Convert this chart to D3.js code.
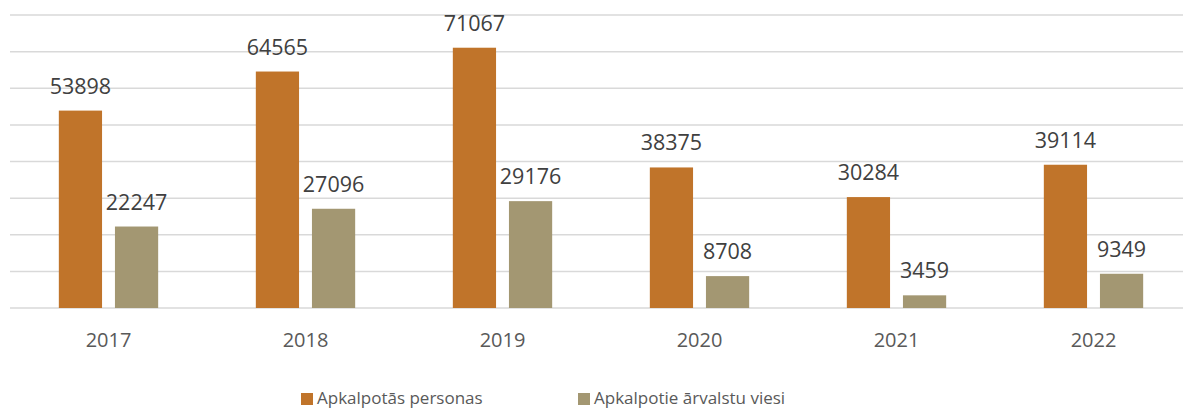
<!DOCTYPE html>
<html>
<head>
<meta charset="utf-8">
<script src="https://cdn.jsdelivr.net/npm/d3@7"></script>
<style>
  body { margin: 0; background: #fff; }
  svg { display: block; font-family: "Open Sans", sans-serif; }
</style>
</head>
<body>
<div id="chart"></div>
<script>
// data
const years = ["2017", "2018", "2019", "2020", "2021", "2022"];
const persons = [53898, 64565, 71067, 38375, 30284, 39114];
const foreigners = [22247, 27096, 29176, 8708, 3459, 9349];
const seriesNames = ["Apkalpotās personas", "Apkalpotie ārvalstu viesi"];
const colors = ["#C0742A", "#A39772"];
const yTicks = [0, 10000, 20000, 30000, 40000, 50000, 60000, 70000, 80000];

const width = 1183, height = 409;
const svg = d3.select("#chart").append("svg")
    .attr("width", width)
    .attr("height", height);

const x = d3.scaleBand().domain(years).range([10, 1192]);
const inner = d3.scaleBand().domain([0, 1]).range([0, x.bandwidth()])
    .paddingInner(0.23).paddingOuter(0.87);
const y = d3.scaleLinear().domain([0, 80000]).range([308, 15]);

// gridlines
svg.append("g")
    .selectAll("line")
    .data(yTicks)
    .join("line")
    .attr("x1", 10)
    .attr("x2", width)
    .attr("y1", d => y(d))
    .attr("y2", d => y(d))
    .attr("stroke", "#D9D9D9")
    .attr("stroke-width", 1.5);

const series = [persons, foreigners];
series.forEach((vals, si) => {
    const g = svg.append("g");
    g.selectAll("rect")
        .data(vals)
        .join("rect")
        .attr("x", (d, i) => x(years[i]) + inner(si))
        .attr("y", d => y(d))
        .attr("width", inner.bandwidth())
        .attr("height", d => y(0) - y(d))
        .attr("fill", colors[si]);
    g.selectAll("text")
        .data(vals)
        .join("text")
        .attr("x", (d, i) => x(years[i]) + inner(si) + inner.bandwidth() / 2)
        .attr("y", d => y(d) - 17)
        .attr("text-anchor", "middle")
        .attr("font-size", 21.5)
        .attr("fill", "#404040")
        .text(d => d);
});

// x axis labels
const xAxis = svg.append("g")
    .attr("transform", "translate(0,308)")
    .call(d3.axisBottom(x).tickSize(0).tickPadding(0));
xAxis.select(".domain").remove();
xAxis.selectAll("text")
    .attr("y", 39)
    .attr("dy", null)
    .attr("font-size", 20)
    .attr("font-family", "Open Sans, sans-serif")
    .attr("fill", "#595959");

// legend
const legendX = [301, 578];
const legend = svg.append("g");
seriesNames.forEach((name, i) => {
    legend.append("rect")
        .attr("x", legendX[i])
        .attr("y", 393)
        .attr("width", 12)
        .attr("height", 12)
        .attr("fill", colors[i]);
    legend.append("text")
        .attr("x", legendX[i] + 16)
        .attr("y", 404)
        .attr("font-size", 17)
        .attr("fill", "#595959")
        .text(name);
});
</script>
</body>
</html>
